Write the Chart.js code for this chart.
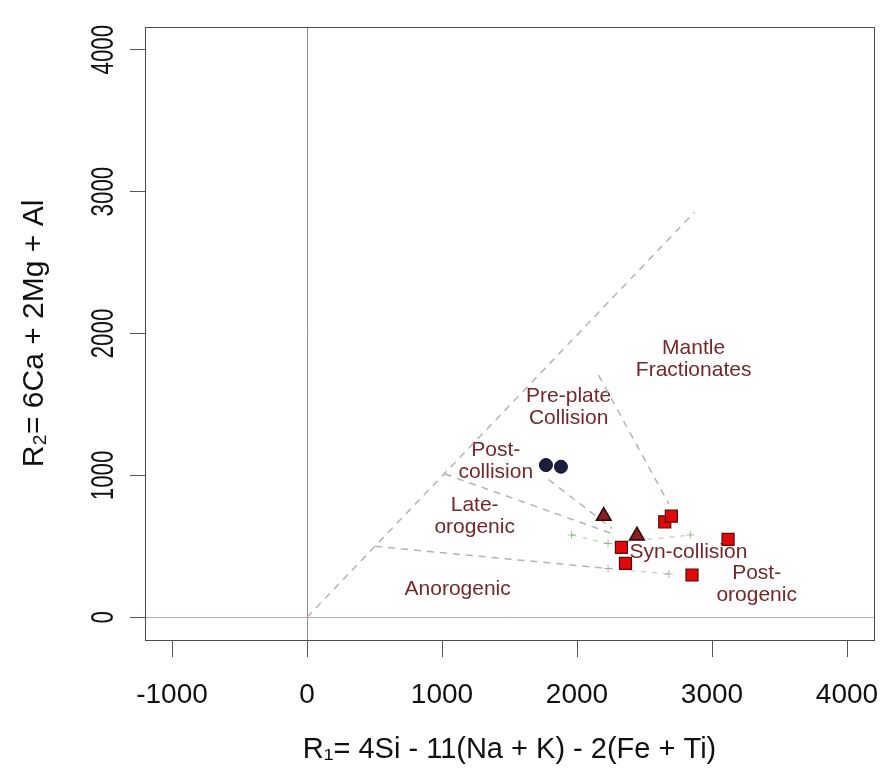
<!DOCTYPE html>
<html>
<head>
<meta charset="utf-8">
<script src="https://cdn.jsdelivr.net/npm/chart.js@4.4.1/dist/chart.umd.min.js"></script>
<style>
  html, body { margin: 0; padding: 0; background: #fff; }
  #wrap { width: 884px; height: 780px; }
</style>
</head>
<body>
<div id="wrap"><canvas id="plot" width="884" height="780"></canvas></div>
<script>
// --- samples (R1, R2) ---
const circleR1 = [1770, 1881];
const circleR2 = [1073, 1061];
const triangleR1 = [2198, 2444];
const triangleR2 = [713, 575];
const squareR1 = [2650, 2699, 2329, 2359, 2852, 3119];
const squareR2 = [673, 713, 493, 380, 298, 549];

// --- axis ticks ---
const xTicks = [-1000, 0, 1000, 2000, 3000, 4000];
const yTicks = [0, 1000, 2000, 3000, 4000];

// --- field boundaries (R1, R2) ---
const lineA = [[0, 0], [2870, 2855]];
const lineB = [[505, 500], [2230, 344]];
const lineC = [[1020, 1010], [2250, 593]];
const lineD = [[1790, 970], [2260, 626]];
const lineE = [[2160, 1706], [2680, 800]];
const greenUpper = [[1960, 580], [2230, 520], [2840, 580]];
const greenLower = [[2230, 344], [2680, 305]];

// --- field names ---
const fieldNames = [
    { lines: ['Mantle', 'Fractionates'], r1: 2864, r2: 1820 },
    { lines: ['Pre-plate', 'Collision'], r1: 1938, r2: 1481 },
    { lines: ['Post-', 'collision'], r1: 1398, r2: 1101 },
    { lines: ['Late-', 'orogenic'], r1: 1242, r2: 713 },
    { lines: ['Anorogenic'], r1: 1116, r2: 200 },
    { lines: ['Syn-collision'], r1: 2825, r2: 456 },
    { lines: ['Post-', 'orogenic'], r1: 3331, r2: 235 }
];

const FONT = "'Liberation Sans', Arial, Helvetica, sans-serif";
const toXY = (xs, ys) => xs.map((x, i) => ({ x: x, y: ys[i] }));
const toPts = pairs => pairs.map(p => ({ x: p[0], y: p[1] }));

function boundary(pairs) {
    return {
        type: 'line',
        data: toPts(pairs),
        borderColor: '#b4b4b4',
        borderWidth: 1.5,
        borderDash: [7, 6],
        pointRadius: 0,
        fill: false,
        tension: 0,
        order: 5
    };
}

function greenBoundary(pairs) {
    return {
        type: 'line',
        data: toPts(pairs),
        borderColor: 'rgba(130,175,120,0.55)',
        borderWidth: 1.2,
        borderDash: [5, 6],
        pointStyle: 'cross',
        pointRadius: 4,
        pointBorderColor: 'rgba(120,165,110,0.7)',
        pointBorderWidth: 1,
        fill: false,
        tension: 0,
        order: 5
    };
}

// frame, field names, narrow rotated y tick labels
const decorations = {
    id: 'decorations',
    beforeDatasetsDraw(chart) {
        const { ctx, scales } = chart;
        ctx.save();
        ctx.fillStyle = '#74282a';
        ctx.font = '21px ' + FONT;
        ctx.textAlign = 'center';
        ctx.textBaseline = 'middle';
        fieldNames.forEach(f => {
            const cx = scales.x.getPixelForValue(f.r1);
            const cy = scales.y.getPixelForValue(f.r2);
            const top = cy - (f.lines.length - 1) * 11;
            f.lines.forEach((t, i) => ctx.fillText(t, cx, top + i * 22));
        });
        ctx.restore();
    },
    afterDraw(chart) {
        const { ctx, chartArea, scales } = chart;
        ctx.save();
        ctx.strokeStyle = '#4a4a4a';
        ctx.lineWidth = 1;
        ctx.strokeRect(chartArea.left + 0.5, chartArea.top + 0.5,
            chartArea.right - chartArea.left, chartArea.bottom - chartArea.top);

        ctx.fillStyle = '#111';
        ctx.font = '31px ' + FONT;
        ctx.textAlign = 'center';
        ctx.textBaseline = 'middle';
        yTicks.forEach(v => {
            const py = scales.y.getPixelForValue(v);
            ctx.save();
            ctx.translate(chartArea.left - 41, py);
            ctx.rotate(-Math.PI / 2);
            ctx.scale(0.72, 1);
            ctx.fillText(String(v), 0, 0);
            ctx.restore();
        });
        ctx.restore();
    }
};

const ctx = document.getElementById('plot').getContext('2d');
new Chart(ctx, {
    type: 'scatter',
    data: {
        datasets: [
            {
                label: 'circles',
                data: toXY(circleR1, circleR2),
                pointStyle: 'circle',
                pointRadius: 6.5,
                backgroundColor: '#1d1d3d',
                borderColor: '#0e0e22',
                borderWidth: 1,
                order: 1
            },
            {
                label: 'triangles',
                data: toXY(triangleR1, triangleR2),
                pointStyle: 'triangle',
                pointRadius: 8.5,
                backgroundColor: '#8e1b22',
                borderColor: '#2a0a0a',
                borderWidth: 1.5,
                order: 1
            },
            {
                label: 'squares',
                data: toXY(squareR1, squareR2),
                pointStyle: 'rect',
                pointRadius: 8.5,
                backgroundColor: '#e00a0a',
                borderColor: '#5a0a0a',
                borderWidth: 1.2,
                order: 1
            },
            boundary(lineA),
            boundary(lineB),
            boundary(lineC),
            boundary(lineD),
            boundary(lineE),
            greenBoundary(greenUpper),
            greenBoundary(greenLower)
        ]
    },
    options: {
        responsive: false,
        animation: false,
        devicePixelRatio: 1,
        layout: { padding: { top: 27, right: 10, left: 0, bottom: 0 } },
        plugins: {
            legend: { display: false },
            tooltip: { enabled: false }
        },
        scales: {
            x: {
                type: 'linear',
                min: -1200,
                max: 4200,
                afterBuildTicks: s => { s.ticks = xTicks.map(v => ({ value: v })); },
                afterFit: s => {
                    s.height = 140;
                    s.paddingLeft = 0; s.paddingRight = 0;
                },
                ticks: {
                    color: '#111',
                    font: { family: FONT, size: 28 },
                    padding: 21,
                    maxRotation: 0,
                    minRotation: 0,
                    callback: v => String(v)
                },
                grid: {
                    color: c => (c.tick && c.tick.value === 0) ? '#8c8c8c' : 'rgba(0,0,0,0)',
                    tickColor: '#555',
                    tickLength: 17,
                    lineWidth: 1
                },
                border: { display: false },
                title: {
                    display: true,
                    text: 'R\u2081= 4Si - 11(Na + K) - 2(Fe + Ti)',
                    color: '#111',
                    font: { family: FONT, size: 29 },
                    padding: { top: 0, bottom: 13 }
                }
            },
            y: {
                type: 'linear',
                min: -160,
                max: 4160,
                afterBuildTicks: s => { s.ticks = yTicks.map(v => ({ value: v })); },
                afterFit: s => {
                    s.width = 145;
                    s.paddingTop = 0; s.paddingBottom = 0;
                },
                ticks: {
                    display: false
                },
                grid: {
                    color: c => (c.tick && c.tick.value === 0) ? '#bea6ad' : 'rgba(0,0,0,0)',
                    tickColor: '#555',
                    tickLength: 15,
                    lineWidth: 1
                },
                border: { display: false },
                title: {
                    display: true,
                    text: 'R\u2082= 6Ca + 2Mg + Al',
                    color: '#111',
                    font: { family: FONT, size: 30 },
                    padding: { top: 17, bottom: 0 }
                }
            }
        }
    },
    plugins: [decorations]
});
</script>
</body>
</html>
